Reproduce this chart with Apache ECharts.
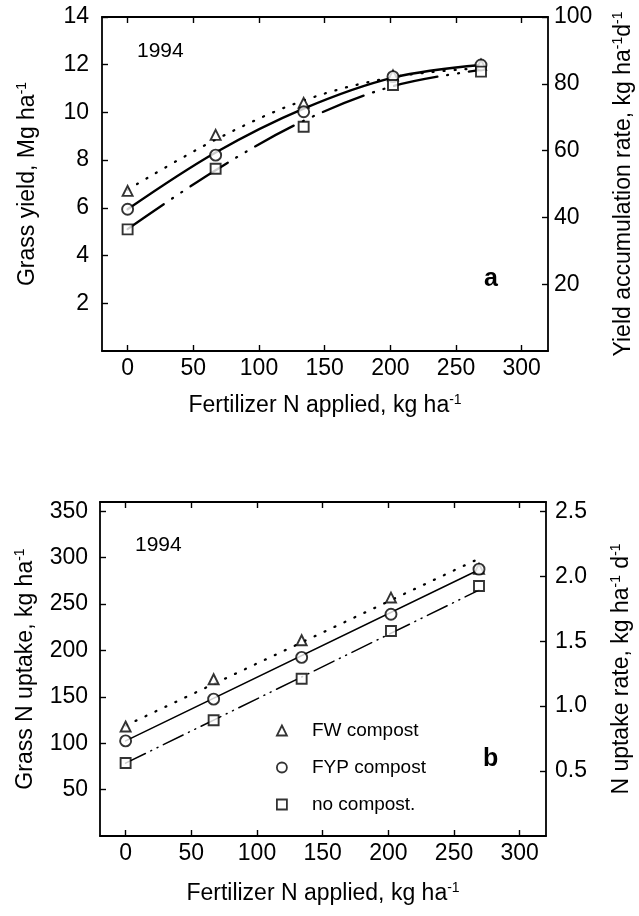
<!DOCTYPE html>
<html><head><meta charset="utf-8">
<script src="https://cdn.jsdelivr.net/npm/echarts@6/dist/echarts.min.js"></script>
<style>html,body{margin:0;padding:0;background:#fff}#c{width:639px;height:916px}</style>
</head><body><div id="c"></div>
<script>
// ---------- data ----------
const nRates = [0, 67, 134, 202, 269];           // fertilizer N applied, kg/ha
const xTicks = [0, 50, 100, 150, 200, 250, 300];
const yieldTicks = [2, 4, 6, 8, 10, 12, 14];
const yieldRateTicks = [20, 40, 60, 80, 100];
const uptakeTicks = [50, 100, 150, 200, 250, 300, 350];
const uptakeRateTicks = [0.5, 1.0, 1.5, 2.0, 2.5];
const seriesNames = ['FW compost', 'FYP compost', 'no compost.'];

// panel a: grass yield, Mg/ha (observed)
const yieldFW  = [6.71, 9.06, 10.4, 11.55, 12.0];
const yieldFYP = [5.94, 8.21, 10.03, 11.5, 11.99];
const yieldNC  = [5.10, 7.64, 9.40, 11.15, 11.71];
// panel a: fitted curves, read at the same N rates
const yieldFitFW  = [6.76, 8.86, 10.5, 11.48, 11.86];
const yieldFitFYP = [5.94, 8.32, 10.16, 11.46, 11.99];
const yieldFitNC  = [5.11, 7.58, 9.65, 11.1, 11.78];

// panel b: grass N uptake, kg/ha (observed)
const uptakeFW  = [118, 169, 211, 257, 288];
const uptakeFYP = [102.5, 147.5, 192.5, 239, 287.6];
const uptakeNC  = [78.7, 124.8, 169.5, 221, 269.5];
// panel b: fitted straight lines, end points
const uptakeFitX   = [0, 269];
const uptakeFitFW  = [119, 299];
const uptakeFitFYP = [102.5, 287];
const uptakeFitNC  = [78.5, 265];

// ---------- chart ----------
const FONT = '"Liberation Sans", Arial, Helvetica, sans-serif';
const pairs = (xs, ys) => xs.map((x, i) => [x, ys[i]]);
const black = '#000';
const TICK_FS = 23, NAME_FS = 23;

function axisBase(extra) {
  return Object.assign({
    type: 'value',
    axisLine: { show: true, onZero: false, lineStyle: { color: black, width: 1.8 } },
    axisTick: { show: true, inside: true, length: 6, lineStyle: { color: black, width: 1.4 } },
    axisLabel: { color: black, fontFamily: FONT, fontSize: TICK_FS },
    splitLine: { show: false },
    nameTextStyle: { color: black, fontFamily: FONT, fontSize: NAME_FS }
  }, extra);
}
function richName(sz) {
  return {
    color: black, fontFamily: FONT, fontSize: sz,
    rich: {
      t: { fontFamily: FONT, fontSize: sz, color: black, lineHeight: 26 },
      s: { fontFamily: FONT, fontSize: 14, color: black, verticalAlign: 'top', lineHeight: 14 }
    }
  };
}
function xAxes(gridIndex, gap) {
  return [
    axisBase({
      gridIndex, position: 'bottom', min: -19.5, max: 320,
      axisTick: { show: true, inside: true, length: 6, customValues: xTicks, lineStyle: { color: black, width: 1.4 } },
      axisLabel: { color: black, fontFamily: FONT, fontSize: TICK_FS, margin: 6, customValues: xTicks },
      name: '{t|Fertilizer N applied, kg ha}{s|-1}', nameLocation: 'middle', nameGap: gap,
      nameTextStyle: richName(NAME_FS)
    }),
    axisBase({
      gridIndex, position: 'top', min: -19.5, max: 320,
      axisTick: { show: true, inside: true, length: 6, customValues: xTicks, lineStyle: { color: black, width: 1.4 } },
      axisLabel: { show: false }
    })
  ];
}
function yAxis(gridIndex, pos, min, max, ticks, name, gap, margin, fmt) {
  return axisBase({
    gridIndex, position: pos, min, max,
    axisTick: { show: true, inside: true, length: 6, customValues: ticks, lineStyle: { color: black, width: 1.4 } },
    axisLabel: { color: black, fontFamily: FONT, fontSize: TICK_FS, margin, customValues: ticks, formatter: fmt },
    name, nameLocation: 'middle', nameGap: gap, nameRotate: 90,
    nameTextStyle: richName(NAME_FS)
  });
}

const open = { color: '#fff', borderColor: black, borderWidth: 1.9 };
function scatter(name, sym, size, xi, yi, ys) {
  return { type: 'scatter', name, symbol: sym, symbolSize: size, xAxisIndex: xi, yAxisIndex: yi,
    itemStyle: open, z: 5, data: pairs(nRates, ys) };
}
function fit(name, xi, yi, xs, ys, type, width, smooth) {
  return { type: 'line', name, xAxisIndex: xi, yAxisIndex: yi, showSymbol: false, symbol: 'none',
    smooth, lineStyle: { color: black, width, type, cap: 'round' }, z: 3, data: pairs(xs, ys), silent: true };
}

const chart = echarts.init(document.getElementById('c'), null, { renderer: 'canvas' });
chart.setOption({
  animation: false,
  backgroundColor: '#fff',
  textStyle: { fontFamily: FONT },
  grid: [
    { left: 102, top: 17, width: 446, height: 334, outerBoundsMode: 'none', containLabel: false },
    { left: 100, top: 502, width: 446, height: 334, outerBoundsMode: 'none', containLabel: false }
  ],
  xAxis: [...xAxes(0, 42), ...xAxes(1, 45)],
  yAxis: [
    yAxis(0, 'left', 0, 14, yieldTicks, '{t|Grass yield, Mg ha}{s|-1}', 61, 13),
    yAxis(0, 'right', 0, 100, yieldRateTicks, '{t|Yield accumulation rate, kg ha}{s|-1}{t|d}{s|-1}', 63, 6),
    yAxis(1, 'left', 0, 360, uptakeTicks, '{t|Grass N uptake, kg ha}{s|-1}', 61, 12),
    yAxis(1, 'right', 0, 360 / 140, uptakeRateTicks, '{t|N uptake rate, kg ha}{s|-1}{t| d}{s|-1}', 63, 9, v => v.toFixed(1))
  ],
  title: [
    { text: '1994', left: 137, top: 41, padding: 0, textStyle: { fontFamily: FONT, fontSize: 21, fontWeight: 'normal', color: black } },
    { text: '1994', left: 135, top: 535, padding: 0, textStyle: { fontFamily: FONT, fontSize: 21, fontWeight: 'normal', color: black } },
    { text: 'a', left: 484, top: 267, padding: 0, textStyle: { fontFamily: FONT, fontSize: 25, fontWeight: 'bold', color: black } },
    { text: 'b', left: 483, top: 747, padding: 0, textStyle: { fontFamily: FONT, fontSize: 25, fontWeight: 'bold', color: black } }
  ],
  legend: {
    orient: 'vertical', left: 271, top: 716, itemGap: 18, itemWidth: 10, itemHeight: 10,
    textStyle: { fontFamily: FONT, fontSize: 19, color: black, padding: [0, 0, 0, 20] },
    data: [
      { name: seriesNames[0], icon: 'triangle' },
      { name: seriesNames[1], icon: 'circle' },
      { name: seriesNames[2], icon: 'rect' }
    ],
    itemStyle: { color: '#fff', borderColor: black, borderWidth: 1.8 }
  },
  series: [
    fit('fitFW_a', 0, 0, nRates, yieldFitFW, [1, 10], 2.3, 0.35),
    fit('fitFYP_a', 0, 0, nRates, yieldFitFYP, 'solid', 2.4, 0.35),
    fit('fitNC_a', 0, 0, nRates, yieldFitNC, [44, 10, 1, 10, 1, 10], 2.3, 0.35),
    scatter(seriesNames[0], 'triangle', 10, 0, 0, yieldFW),
    scatter(seriesNames[1], 'circle', 11, 0, 0, yieldFYP),
    scatter(seriesNames[2], 'rect', 10, 0, 0, yieldNC),

    fit('fitFW_b', 2, 2, uptakeFitX, uptakeFitFW, [1, 10], 2.3, false),
    fit('fitFYP_b', 2, 2, uptakeFitX, uptakeFitFYP, 'solid', 1.5, false),
    fit('fitNC_b', 2, 2, uptakeFitX, uptakeFitNC, [22, 6, 1, 6, 1, 6], 1.5, false),
    scatter(seriesNames[0], 'triangle', 10, 2, 2, uptakeFW),
    scatter(seriesNames[1], 'circle', 11, 2, 2, uptakeFYP),
    scatter(seriesNames[2], 'rect', 10, 2, 2, uptakeNC)
  ]
});
</script>
</body></html>
